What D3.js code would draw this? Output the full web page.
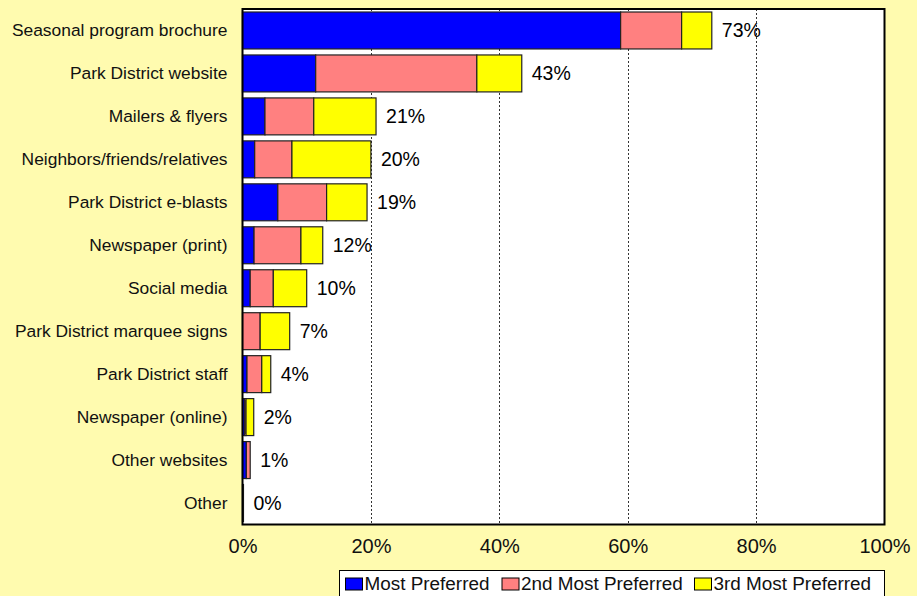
<!DOCTYPE html>
<html>
<head>
<meta charset="utf-8">
<script src="https://cdn.jsdelivr.net/npm/d3@7"></script>
<style>
  html, body { margin: 0; padding: 0; background: #FFFBAF; }
  svg { display: block; }
</style>
</head>
<body>
<svg id="chart" width="917" height="596"></svg>
<script>
const categories = [
  "Seasonal program brochure",
  "Park District website",
  "Mailers & flyers",
  "Neighbors/friends/relatives",
  "Park District e-blasts",
  "Newspaper (print)",
  "Social media",
  "Park District marquee signs",
  "Park District staff",
  "Newspaper (online)",
  "Other websites",
  "Other"
];
const mostPreferred   = [58.9, 11.4, 3.5, 1.9, 5.5, 1.8, 1.2, 0.0, 0.7, 0.35, 0.6, 0.1];
const secondPreferred = [ 9.5, 25.1, 7.6, 5.8, 7.6, 7.3, 3.6, 2.75, 2.3, 0.2, 0.6, 0.05];
const thirdPreferred  = [ 4.7,  7.0, 9.7, 12.3, 6.3, 3.4, 5.2, 4.6, 1.4, 1.2, 0.0, 0.0];
const totalLabels = ["73%", "43%", "21%", "20%", "19%", "12%", "10%", "7%", "4%", "2%", "1%", "0%"];
const seriesNames = ["Most Preferred", "2nd Most Preferred", "3rd Most Preferred"];
const seriesColors = ["#0000FF", "#FF8080", "#FFFF00"];
const xTicks = [0, 20, 40, 60, 80, 100];

const svg = d3.select("#chart");
const pLeft = 242.5, pRight = 884.5, pTop = 9, pBottom = 524.5;

const x = d3.scaleLinear().domain([0, 100]).range([pLeft, pRight]);
const y = d3.scaleBand().domain(categories).range([pTop, pBottom])
  .paddingInner(0.14).paddingOuter(0.07);

// plot background
svg.append("rect").attr("x", pLeft).attr("y", pTop)
  .attr("width", pRight - pLeft).attr("height", pBottom - pTop)
  .attr("fill", "#FFFFFF");

// gridlines
svg.append("g").selectAll("line").data(xTicks.filter(t => t > 0 && t < 100))
  .join("line")
  .attr("x1", d => Math.round(x(d)) + 0.5).attr("x2", d => Math.round(x(d)) + 0.5)
  .attr("y1", pTop).attr("y2", pBottom)
  .attr("stroke", "#333").attr("stroke-width", 1)
  .attr("stroke-dasharray", "2,2");

// stacked data
const table = categories.map((c, i) => ({
  cat: c, s0: mostPreferred[i], s1: secondPreferred[i], s2: thirdPreferred[i]
}));
const stack = d3.stack().keys(["s0", "s1", "s2"])(table);

svg.append("g").selectAll("g").data(stack).join("g")
  .attr("fill", (d, i) => seriesColors[i])
  .selectAll("rect").data(d => d.filter(p => p[1] - p[0] > 0)).join("rect")
  .attr("x", d => x(d[0]))
  .attr("width", d => x(d[1]) - x(d[0]))
  .attr("y", d => y(d.data.cat))
  .attr("height", y.bandwidth())
  .attr("stroke", "#222").attr("stroke-width", 1.2);

// total labels
svg.append("g").selectAll("text").data(table).join("text")
  .attr("x", (d) => x(d.s0 + d.s1 + d.s2) + 10)
  .attr("y", d => y(d.cat) + y.bandwidth() / 2)
  .attr("dy", "0.35em")
  .attr("font-family", "'Liberation Sans', Arial, sans-serif")
  .attr("font-size", "19.5px")
  .attr("fill", "#000")
  .text((d, i) => totalLabels[i]);

// plot border
svg.append("rect").attr("x", pLeft).attr("y", pTop)
  .attr("width", pRight - pLeft).attr("height", pBottom - pTop)
  .attr("fill", "none").attr("stroke", "#000").attr("stroke-width", 2);

// y axis labels
const yAxis = d3.axisLeft(y).tickSize(0).tickPadding(15);
const gy = svg.append("g").attr("transform", `translate(${pLeft},0)`).call(yAxis);
gy.select(".domain").remove();
gy.selectAll("text")
  .attr("font-family", "'Liberation Sans', Arial, sans-serif")
  .attr("font-size", "17.4px").attr("fill", "#111");

// x axis labels
const xAxis = d3.axisBottom(x).tickValues(xTicks).tickSize(0).tickPadding(14)
  .tickFormat(d => d + "%");
const gx = svg.append("g").attr("transform", `translate(0,${pBottom})`).call(xAxis);
gx.select(".domain").remove();
gx.selectAll("text")
  .attr("font-family", "'Liberation Sans', Arial, sans-serif")
  .attr("font-size", "20px").attr("fill", "#111");

// legend
const legend = svg.append("g");
legend.append("rect").attr("x", 339.5).attr("y", 570.5)
  .attr("width", 545).attr("height", 40)
  .attr("fill", "#FFFFFF").attr("stroke", "#000").attr("stroke-width", 1);
const legendX = [345.5, 502, 694.5];
const items = legend.selectAll("g.item").data(seriesNames).join("g").attr("class", "item")
  .attr("transform", (d, i) => `translate(${legendX[i]},578)`);
items.append("rect").attr("width", 17).attr("height", 12)
  .attr("fill", (d, i) => seriesColors[i]).attr("stroke", "#000").attr("stroke-width", 1);
items.append("text").attr("x", 19).attr("y", 12)
  .attr("font-family", "'Liberation Sans', Arial, sans-serif")
  .attr("font-size", "18.9px").attr("fill", "#111")
  .text(d => d);
</script>
</body>
</html>
